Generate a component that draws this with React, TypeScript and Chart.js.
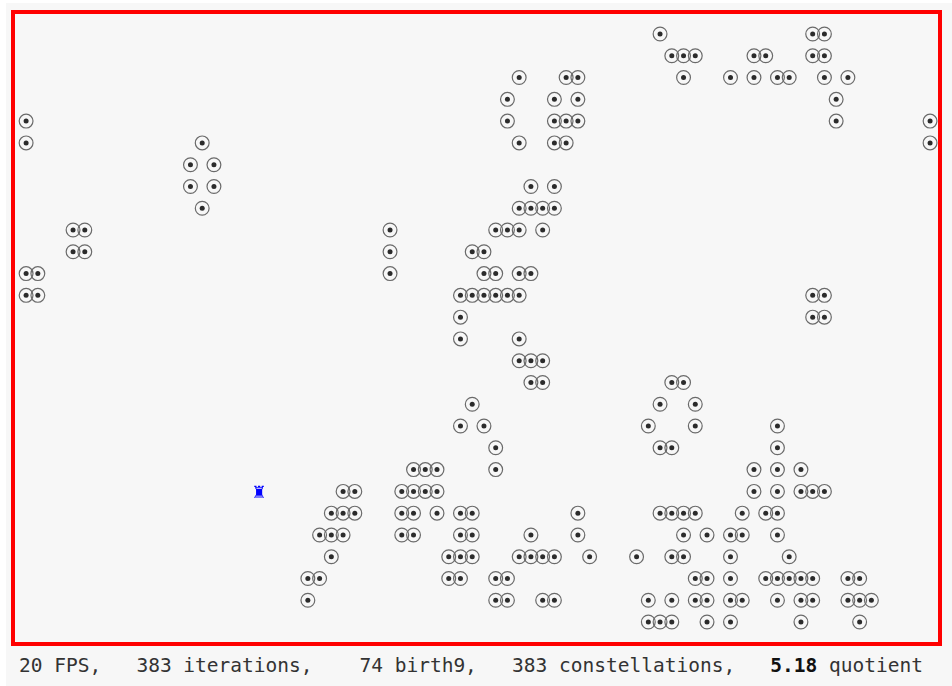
import React, { useEffect, useRef } from "react";
import { Chart, registerables } from "chart.js";

Chart.register(...registerables);

const row00 = [54, 67, 68];
const row01 = [55, 56, 57, 62, 63, 67, 68];
const row02 = [42, 46, 47, 56, 60, 62, 64, 65, 68, 70];
const row03 = [41, 45, 47, 69];
const row04 = [0, 41, 45, 46, 47, 69, 77];
const row05 = [0, 15, 42, 45, 46, 77];
const row06 = [14, 16];
const row07 = [14, 16, 43, 45];
const row08 = [15, 42, 43, 44, 45];
const row09 = [4, 5, 31, 40, 41, 42, 44];
const row10 = [4, 5, 31, 38, 39];
const row11 = [0, 1, 31, 39, 40, 42, 43];
const row12 = [0, 1, 37, 38, 39, 40, 41, 42, 67, 68];
const row13 = [37, 67, 68];
const row14 = [37, 42];
const row15 = [42, 43, 44];
const row16 = [43, 44, 55, 56];
const row17 = [38, 54, 57];
const row18 = [37, 39, 53, 57, 64];
const row19 = [40, 54, 55, 64];
const row20 = [33, 34, 35, 40, 62, 64, 66];
const row21 = [27, 28, 32, 33, 34, 35, 62, 64, 66, 67, 68];
const row22 = [26, 27, 28, 32, 33, 35, 37, 38, 47, 54, 55, 56, 57, 61, 63, 64];
const row23 = [25, 26, 27, 32, 33, 37, 38, 43, 47, 56, 58, 60, 61, 64];
const row24 = [26, 36, 37, 38, 42, 43, 44, 45, 48, 52, 55, 56, 60, 65];
const row25 = [24, 25, 36, 37, 40, 41, 57, 58, 60, 63, 64, 65, 66, 67, 70, 71];
const row26 = [24, 40, 41, 44, 45, 53, 55, 57, 58, 60, 61, 64, 66, 67, 70, 71, 72];
const row27 = [53, 54, 55, 58, 60, 66, 71];

const rows = [
  row00, row01, row02, row03, row04, row05, row06, row07, row08, row09,
  row10, row11, row12, row13, row14, row15, row16, row17, row18, row19,
  row20, row21, row22, row23, row24, row25, row26, row27,
];

const rookCol = 19.82;
const rookRow = 21.1;
const rookGlyph = "\u265C";

const rookPlugin = {
  id: "rook",
  afterDatasetsDraw(chart: any) {
    const { ctx, scales } = chart;
    ctx.save();
    ctx.fillStyle = "#0000ff";
    ctx.font = "17px 'DejaVu Sans'";
    ctx.textAlign = "center";
    ctx.textBaseline = "middle";
    ctx.fillText(rookGlyph, scales.x.getPixelForValue(rookCol), scales.y.getPixelForValue(rookRow));
    ctx.restore();
  },
};

export default function App() {
  const ref = useRef<HTMLCanvasElement | null>(null);
  useEffect(() => {
    const pts = rows.flatMap((cols, r) => cols.map((c) => ({ x: c, y: r })));
    const chart = new Chart(ref.current as HTMLCanvasElement, {
      type: "scatter",
      data: {
        datasets: [
          {
            data: pts,
            pointStyle: "circle",
            pointRadius: 6.9,
            pointBackgroundColor: "rgba(0,0,0,0)",
            pointBorderColor: "#6a6a6a",
            pointBorderWidth: 1.2,
          },
          {
            data: pts,
            pointStyle: "circle",
            pointRadius: 2.5,
            pointBackgroundColor: "#2b2b2b",
            pointBorderColor: "#2b2b2b",
            pointBorderWidth: 0,
          },
        ],
      },
      options: {
        animation: false,
        responsive: false,
        layout: { padding: 0, autoPadding: false },
        plugins: { legend: { display: false }, tooltip: { enabled: false } },
        scales: {
          x: { type: "linear", display: false, min: (15 - 26.1) / 11.74, max: (938 - 26.1) / 11.74 },
          y: { type: "linear", display: false, reverse: true, min: (14 - 34) / 21.78, max: (642 - 34) / 21.78 },
        },
      },
      plugins: [rookPlugin],
    } as any);
    return () => chart.destroy();
  }, []);

  return (
    <div style={{ position: "absolute", left: 6, top: 3, width: 946, height: 683, background: "#f7f7f7", overflow: "hidden" }}>
      <div style={{ position: "absolute", left: 5, top: 7, width: 923, height: 628, border: "4px solid #ff0000" }}>
        <canvas ref={ref} width={923} height={628} style={{ display: "block", width: 923, height: 628 }} />
      </div>
      <div
        style={{
          position: "absolute",
          left: 13,
          top: 650,
          fontFamily: "'DejaVu Sans Mono', monospace",
          fontSize: 19.5,
          lineHeight: "26px",
          whiteSpace: "pre",
          color: "#333333",
        }}
      >
        {"20 FPS,   383 iterations,    74 birth9,   383 constellations,   "}
        <b style={{ color: "#111111" }}>5.18</b>
        {" quotient"}
      </div>
    </div>
  );
}
